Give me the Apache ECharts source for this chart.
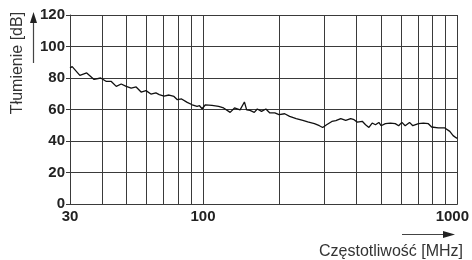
<!DOCTYPE html>
<html>
<head>
<meta charset="utf-8">
<script src="https://cdn.jsdelivr.net/npm/echarts@6/dist/echarts.min.js"></script>
<style>html,body{margin:0;padding:0;background:#fff;}#c{width:472px;height:260px;}</style>
</head>
<body>
<div id="c"></div>
<script>
const frequencies = [30, 30.6, 32.8, 34.9, 37.3, 39.6, 41.7, 43.6, 45.6, 47.7, 49.9, 52.2, 54.6, 57.1, 59.7, 62.4, 65.3, 67.3, 70.3, 73.6, 76.9, 79.3, 82.4, 86.7, 90.7, 94.8, 96.9, 99.2, 102.2, 108.5, 115.2, 120.5, 127.9, 133, 139.9, 145.5, 148.5, 153.1, 159.1, 163.5, 169.9, 176.7, 183.2, 191.6, 199.1, 209.5, 219.1, 232.5, 246.9, 258.2, 274.3, 286.8, 295.5, 306.2, 321.2, 332.9, 348.2, 364.1, 380.8, 392.7, 404.4, 422.9, 435.7, 449.2, 462.7, 476.6, 491.4, 501.6, 521.3, 545.3, 570.2, 587.9, 605.5, 623.7, 648.8, 668.3, 703.4, 735.6, 769.4, 792.5, 841.5, 893.2, 934.2, 962.7, 991.6, 1000];
const attenuation = [86.3, 87.2, 81.7, 83.2, 79.1, 80, 77.8, 77.8, 74.7, 76.2, 74.7, 73.6, 74.3, 71.1, 72, 69.8, 70.5, 69.5, 68.5, 69.2, 68.3, 66.2, 66.7, 64.5, 63, 62, 62.4, 60.5, 63, 62.6, 62, 61, 58.2, 61, 59.8, 64.8, 59.8, 59.4, 58.2, 60.3, 58.8, 60.3, 57.8, 57.8, 56.7, 57.3, 55.6, 54.2, 53.1, 52.1, 51, 49.7, 48.6, 50.3, 52.4, 52.9, 54.2, 53.1, 54.2, 53.5, 52, 52.5, 50.3, 48.6, 51.4, 50.3, 51.8, 49.7, 51, 51.4, 51, 49.7, 51.8, 49.7, 51.8, 49.7, 51, 51.4, 51, 48.9, 48.3, 48.3, 46.1, 43.4, 41.9, 41.8];
const minorGridFreqs = [40, 50, 60, 70, 80, 90, 200, 300, 400, 500, 600, 700, 800, 900];
const xTickLabels = [30, 100, 1000];
const yMin = 0, yMax = 120, yStep = 20;
const yTitle = 'Tłumienie [dB]';
const xTitle = 'Częstotliwość [MHz]';

const chart = echarts.init(document.getElementById('c'), null, {renderer: 'canvas'});
const lineCol = '#3a3a3a';
const labelFont = {fontFamily: 'Liberation Sans', fontWeight: 'bold', fontSize: 15, color: '#222'};
chart.setOption({
  animation: false,
  backgroundColor: '#fff',
  grid: {left: 70, right: 11, top: 15, bottom: 56, containLabel: false},
  xAxis: {
    type: 'log', logBase: 10, min: 30, max: 1000,
    axisLine: {show: true, lineStyle: {color: lineCol, width: 1}},
    axisTick: {show: false},
    splitLine: {show: true, lineStyle: {color: lineCol, width: 1}},
    axisLabel: {
      margin: 5,
      ...labelFont,
      formatter: function (v) {
        const r = Math.round(v);
        if (xTickLabels.indexOf(r) < 0) return '';
        if (r === 1000) return '{m|' + r + '}';
        return String(r);
      },
      rich: {m: {...labelFont, padding: [0, 10, 0, 0]}}
    }
  },
  yAxis: {
    type: 'value', min: yMin, max: yMax, interval: yStep,
    axisLine: {show: true, lineStyle: {color: lineCol, width: 1}},
    axisTick: {show: true, length: 4, lineStyle: {color: lineCol}},
    splitLine: {show: true, lineStyle: {color: lineCol, width: 1}},
    axisLabel: {margin: 5, ...labelFont}
  },
  series: [{
    type: 'line',
    data: frequencies.map((f, i) => [f, attenuation[i]]),
    showSymbol: false,
    lineStyle: {color: '#111', width: 1.3},
    markLine: {
      silent: true, symbol: 'none',
      label: {show: false},
      lineStyle: {color: lineCol, width: 1, type: 'solid'},
      data: minorGridFreqs.map(f => ({xAxis: f}))
    },
    z: 5
  }],
  graphic: [
    {type: 'text', x: 18, y: 63, rotation: Math.PI / 2,
     style: {text: yTitle, fill: '#333', font: '16px "Liberation Sans"', textAlign: 'center', textVerticalAlign: 'middle'}},
    {type: 'line', shape: {x1: 33.5, y1: 63, x2: 33.5, y2: 20}, style: {stroke: '#444', lineWidth: 1.2}},
    {type: 'polygon', shape: {points: [[30, 23], [37, 23], [33.5, 12]]}, style: {fill: '#222'}},
    {type: 'line', shape: {x1: 402, y1: 234.5, x2: 446, y2: 234.5}, style: {stroke: '#444', lineWidth: 1.2}},
    {type: 'polygon', shape: {points: [[443, 231], [443, 238], [455, 234.5]]}, style: {fill: '#222'}},
    {type: 'text', x: 463, y: 252,
     style: {text: xTitle, fill: '#333', font: '16px "Liberation Sans"', textAlign: 'right', textVerticalAlign: 'middle'}}
  ]
});
</script>
</body>
</html>
